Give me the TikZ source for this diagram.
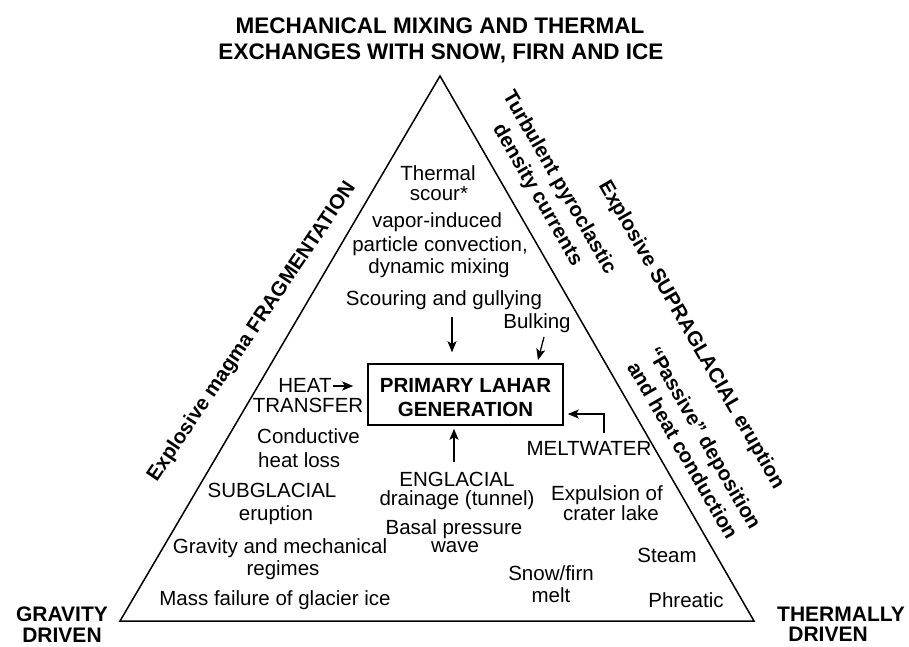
\documentclass[tikz,border=0pt]{standalone}
\usepackage{fontspec}
\setmainfont{Liberation Sans}
\usetikzlibrary{arrows.meta}
\begin{document}
\begin{tikzpicture}[x=1pt,y=-1pt,
  txt/.style={font=\fontsize{20.5}{22}\selectfont, inner sep=0pt, anchor=base},
  bld/.style={font=\bfseries\fontsize{20.5}{24}\selectfont, inner sep=0pt, anchor=base},
  ttl/.style={font=\bfseries\fontsize{22.5}{26}\selectfont, inner sep=0pt, anchor=base},
  crn/.style={font=\bfseries\fontsize{21}{21}\selectfont, inner sep=0pt, anchor=base},
  rot/.style={font=\bfseries\fontsize{20.5}{25}\selectfont, inner sep=0pt, anchor=center, align=center},
  edge/.style={line width=1.5pt, line join=miter},
  arr/.style={line width=1.3pt, -{Stealth[length=11pt,width=9pt,inset=2.5pt]}},
  boxst/.style={draw, line width=1.5pt, minimum width=195pt, minimum height=61pt, inner sep=0pt}
]
\useasboundingbox (0,0) rectangle (909,646);

% triangle
\coordinate (apex) at (440,76);
\coordinate (bl) at (120,621);
\coordinate (br) at (754,621);
\draw[edge] (apex) -- (br) -- (bl) -- cycle;

% title and corners
\node[ttl] (t1) at (440,33) {MECHANICAL MIXING AND THERMAL};
\node[ttl] (t2) at (441,59) {EXCHANGES WITH SNOW, FIRN AND ICE};
\node[crn] (g1) at (62,621) {GRAVITY};
\node[crn] (g2) at (62,642) {DRIVEN};
\node[crn] (th1) at (841,621) {THERMALLY};
\node[crn] (th2) at (828,641) {DRIVEN};

% rotated side labels
\node[rot, rotate=56] (frag) at (252,332) {Explosive magma FRAGMENTATION};
\node[rot, rotate=-60] (turb) at (548,189) {Turbulent pyroclastic\\density currents};
\node[rot, rotate=-60] (supra) at (691,335) {Explosive SUPRAGLACIAL eruption};
\node[rot, rotate=-60] (pass) at (694,444) {“Passive” deposition\\and heat conduction};

% central box
\node[boxst] (box) at (465.5,394.5) {};
\node[bld] (p1) at (465.5,392) {PRIMARY LAHAR};
\node[bld] (p2) at (465.5,416) {GENERATION};

% inner texts
\node[txt] (a1) at (438,180) {Thermal};
\node[txt] (a2) at (439,200) {scour*};
\node[txt] (a3) at (437,227) {vapor-induced};
\node[txt] (a4) at (440,251) {particle convection,};
\node[txt] (a5) at (439,273) {dynamic mixing};
\node[txt] (scouring) at (444,305) {Scouring and gullying};
\node[txt] (bulking) at (537,328) {Bulking};
\node[txt] (heat) at (305,392) {HEAT};
\node[txt] (transfer) at (308,412) {TRANSFER};
\node[txt, anchor=base west] (c1) at (257,443) {Conductive};
\node[txt, anchor=base west] (c2) at (258,467) {heat loss};
\node[txt] (s1) at (272,497) {SUBGLACIAL};
\node[txt] (s2) at (276,520) {eruption};
\node[txt] (gm1) at (280,553) {Gravity and mechanical};
\node[txt] (gm2) at (283,575) {regimes};
\node[txt] (mass) at (275,605) {Mass failure of glacier ice};
\node[txt] (e1) at (457,486) {ENGLACIAL};
\node[txt] (e2) at (457,505) {drainage (tunnel)};
\node[txt] (b1) at (454,534) {Basal pressure};
\node[txt] (b2) at (455,552) {wave};
\node[txt] (melt) at (589,455) {MELTWATER};
\node[txt] (x1) at (607,500) {Expulsion of};
\node[txt] (x2) at (611,520) {crater lake};
\node[txt] (sf1) at (551,580) {Snow/firn};
\node[txt] (sf2) at (551,602) {melt};
\node[txt] (steam) at (667,562) {Steam};
\node[txt] (phr) at (686,607) {Phreatic};

% arrows
\coordinate (sA) at (452,317);
\draw[arr, shorten >=11pt] (sA) -- (sA |- box.north);
\coordinate (bA) at (544,337);
\coordinate (bB) at (538,360);
\draw[arr] (bA) -- (bB);
\coordinate (hA) at (333,386);
\draw[arr, shorten >=14pt] (hA) -- (box.west |- hA);
\coordinate (eA) at (454,462);
\draw[arr, shorten >=3pt] (eA) -- (eA |- box.south);
\coordinate (mA) at (604,433);
\coordinate (mK) at (604,414);
\draw[arr, shorten >=4pt] (mA) -- (mK) -- (box.east |- mK);
\end{tikzpicture}
\end{document}
